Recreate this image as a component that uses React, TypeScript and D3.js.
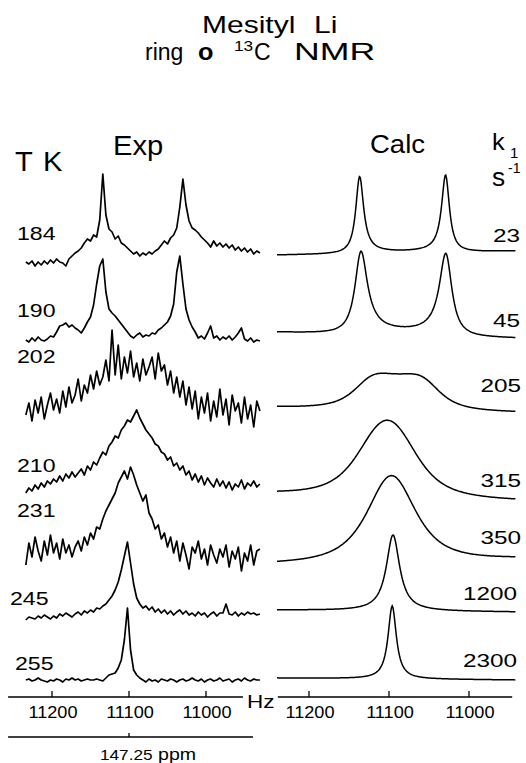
import React from "react";
import * as d3 from "d3";

const FONT = "'Liberation Sans', Arial, Helvetica, sans-serif";

// Temperatures (K) of the measured spectra, top to bottom
const temperatures = [184, 190, 202, 210, 231, 245, 255];
// Exchange rate constants k1 (s^-1) of the simulated spectra, top to bottom
const rateConstants = [23, 45, 205, 315, 350, 1200, 2300];

// Measured traces: intensity sampled every 4 Hz, from 11234 Hz down to 10930 Hz
const sampleStartHz = 11234;
const sampleStepHz = 4;

const exp184 = [3, 1, 4, -1, 3, 0, 4, 1, 5, 2, 6, 3, 2, -1, 6, 9, 12, 14, 17, 22, 26, 24, 30, 28, 45, 91, 50, 36, 33, 26, 29, 22, 20, 17, 14, 11, 13, 9, 12, 10, 13, 11, 14, 16, 20, 24, 21, 27, 30, 37, 58, 86, 60, 44, 37, 35, 32, 28, 25, 22, 18, 24, 19, 22, 18, 21, 17, 20, 15, 18, 14, 17, 13, 16, 11, 14, 12];
const exp190 = [2, 0, 4, 1, 5, 2, 1, 3, 6, 5, 10, 16, 17, 19, 15, 17, 14, 12, 9, 14, 20, 25, 37, 58, 76, 83, 50, 33, 29, 26, 22, 18, 14, 10, 6, 4, 7, 9, 5, 7, 6, 9, 8, 12, 14, 17, 20, 26, 38, 70, 86, 58, 33, 22, 15, 10, 4, 6, 3, 9, 16, 4, 6, 2, 5, 3, 6, 2, 5, 9, 14, 3, 1, 4, 0, 2, 1];
const exp202 = [0, 12, -6, 15, 2, 18, -4, 10, 22, 5, 16, 2, 24, 8, 28, 12, 20, 36, 14, 30, 22, 40, 26, 44, 30, 38, 55, 34, 85, 40, 70, 36, 58, 42, 64, 38, 52, 34, 56, 40, 48, 58, 36, 62, 44, 50, 30, 44, 22, 38, 18, 34, 10, 28, 6, 24, -4, 18, 2, 22, -6, 14, -2, 26, 0, 16, -10, 20, 4, 12, -8, 18, -4, 10, -12, 14, 4];
const exp210 = [-3, 2, -1, 5, 1, 7, 3, 9, 6, 11, 8, 14, 9, 16, 12, 18, 13, 17, 21, 15, 24, 20, 28, 25, 32, 38, 35, 44, 48, 54, 52, 60, 64, 70, 68, 74, 80, 72, 66, 60, 56, 52, 46, 44, 38, 36, 30, 33, 24, 27, 20, 24, 15, 19, 10, 16, 8, 14, 5, 12, 7, 3, 11, 4, 9, 2, 8, 0, 6, 3, 10, 1, 7, 4, 9, 3, 6];
const exp231 = [-10, 12, -2, 18, 4, -6, 14, 0, 20, 2, 12, -4, 16, 2, 10, -2, 8, 14, 4, 18, 10, 22, 16, 28, 26, 36, 44, 50, 56, 62, 72, 78, 84, 76, 88, 80, 70, 62, 54, 60, 42, 36, 26, 30, 16, 22, 8, 18, 2, 14, -6, 12, 0, -14, 8, 2, 14, -4, 6, -10, 10, 0, -8, 6, -2, 10, -12, 4, -4, 8, -16, 2, -6, 10, -10, 4, 6];
const exp245 = [-2, 1, 0, -1, 2, 0, 3, 1, -1, 2, 0, 4, 2, 5, 3, 1, 4, 6, 3, 7, 5, 8, 6, 10, 9, 12, 14, 18, 22, 28, 36, 48, 62, 76, 55, 34, 20, 14, 10, 12, 8, 11, 6, 9, 5, 8, 4, 7, 3, 6, 8, 4, 7, 3, 5, 2, 6, 3, 5, 1, 4, 6, 2, 5, 5, 14, 4, 3, 6, 2, 5, 3, 6, 4, 5, 3, 4];
const exp255 = [0, 1, -1, 0, 2, 0, -1, -2, 0, -1, 1, 0, -2, 1, 0, 2, 0, 1, -1, 0, 1, 0, 0, 1, 0, -1, 2, 5, 6, 7, 12, 20, 40, 72, 30, 10, 5, 2, 0, -2, 1, -1, 0, -2, 1, 0, -1, 1, 0, -2, 0, 1, -1, 0, 2, 0, -1, 1, -2, 0, 1, -1, 0, 2, -1, 0, 1, -2, 0, 1, -1, 2, 0, -1, 1, 0, 0];
const expTraces = [exp184, exp190, exp202, exp210, exp231, exp245, exp255];
// Stacking offset of each measured trace (intensity units)
const expOffsets = [415, 338, 265, 190, 125, 62, 0];

// Simulated spectra: equal-population two-site exchange
const calcCentersHz = [11083, 11082, 11090, 11102, 11097, 11095, 11096];
const calcSplittingHz = [108, 108, 100, 108, 108, 108, 108];
const naturalWidthHz = 4.5;
const calcHeights = [77, 83, 36, 76, 85, 76, 73];
const calcOffsetsLeft = [425, 348, 273, 187, 117, 70, 2];
const calcOffsetsRight = [429, 342, 268, 180, 122, 68, 0];

const axisTicksHz = [11200, 11100, 11000];

// Layout of the row labels (baseline positions)
const tempLabelX = [17, 17, 17, 17, 17, 10, 15];
const tempLabelY = [240, 317, 363, 472, 517, 605, 670];
const rateLabelX = [520, 520, 521, 521, 521, 517, 517];
const rateLabelY = [242, 327, 392, 487, 544, 600, 667];

// Absorption lineshape of two equally populated sites exchanging at rate k
function exchangeShape(nu: number, nuA: number, nuB: number, k: number, lam: number) {
  const ar = lam + k, ai = 2 * Math.PI * (nuA - nu);
  const br = lam + k, bi = 2 * Math.PI * (nuB - nu);
  const nr = 0.5 * (ar + br + 2 * k), ni = 0.5 * (ai + bi);
  const dr = ar * br - ai * bi - k * k, di = ar * bi + ai * br;
  return (nr * dr + ni * di) / (dr * dr + di * di);
}

type LabelProps = {
  x: number; y: number; size: number; sx?: number;
  anchor?: "start" | "middle" | "end"; weight?: string | number;
  children: React.ReactNode;
};

function Label({ x, y, size, sx = 1, anchor = "start", weight = "normal", children }: LabelProps) {
  return (
    <text
      transform={`translate(${x},${y}) scale(${sx},1)`}
      fontSize={size}
      textAnchor={anchor}
      fontWeight={weight}
      fontFamily={FONT}
      fill="#000"
    >
      {children}
    </text>
  );
}

export default function App() {
  const W = 526, H = 763;
  const xExp = d3.scaleLinear().domain([11200, 11000]).range([52, 206]);
  const xCalc = d3.scaleLinear().domain([11200, 11000]).range([309, 469]);
  const y = d3.scaleLinear().domain([0, 500]).range([680, 180]);

  const expPaths = expTraces.map((trace, r) =>
    d3.line<number>()
      .x((_, i) => xExp(sampleStartHz - i * sampleStepHz))
      .y((v) => y(expOffsets[r] + v))(trace) as string
  );

  const calcGrid = d3.range(11240, 10941, -1);
  const span = calcGrid[0] - calcGrid[calcGrid.length - 1];
  const calcPaths = rateConstants.map((k, r) => {
    const c = calcCentersHz[r];
    const half = calcSplittingHz[r] / 2;
    const vals = calcGrid.map((nu) =>
      exchangeShape(nu, c + half, c - half, k, Math.PI * naturalWidthHz)
    );
    const mx = d3.max(vals) as number;
    return d3.line<number>()
      .x((_, i) => xCalc(calcGrid[i]))
      .y((v, i) => {
        const t = (calcGrid[0] - calcGrid[i]) / span;
        const base = calcOffsetsLeft[r] + (calcOffsetsRight[r] - calcOffsetsLeft[r]) * t;
        return y(base + (calcHeights[r] * v) / mx);
      })(vals) as string;
  });

  const axisY = 697;
  const tickLen = 6;
  const ppmAxisY = 737;

  return (
    <svg
      width={W}
      height={H}
      viewBox={`0 0 ${W} ${H}`}
      style={{ position: "absolute", left: 0, top: 0, background: "#fff" }}
    >
      <rect x={0} y={0} width={W} height={H} fill="#fff" />

      {/* Title */}
      <Label x={202} y={33} size={24} sx={1.25}>Mesityl</Label>
      <Label x={314} y={33} size={24} sx={1.25}>Li</Label>
      <Label x={145} y={60} size={23} sx={1.0}>ring</Label>
      <Label x={198} y={60} size={23} sx={1.1} weight="bold">o</Label>
      <Label x={234} y={51} size={15} sx={1.15}>13</Label>
      <Label x={254} y={60} size={23} sx={1.0}>C</Label>
      <Label x={294} y={60} size={23} sx={1.55}>NMR</Label>

      {/* Column headings */}
      <Label x={15} y={171} size={27} sx={1.08}>T</Label>
      <Label x={43} y={171} size={27} sx={1.08}>K</Label>
      <Label x={113} y={155} size={27} sx={1.08}>Exp</Label>
      <Label x={370} y={153} size={25} sx={1.1}>Calc</Label>
      <Label x={492} y={150} size={23} sx={1.1}>k</Label>
      <Label x={510} y={158} size={15}>1</Label>
      <Label x={492} y={186} size={25} sx={1.05}>s</Label>
      <Label x={508} y={173} size={14}>-1</Label>

      {/* Measured spectra */}
      <g fill="none" stroke="#000" strokeWidth={1.7} strokeLinejoin="round">
        {expPaths.map((d, r) => (
          <path key={temperatures[r]} d={d} />
        ))}
      </g>
      {temperatures.map((t, r) => (
        <Label key={t} x={tempLabelX[r]} y={tempLabelY[r]} size={18.5} sx={1.25}>
          {t}
        </Label>
      ))}

      {/* Simulated spectra */}
      <g fill="none" stroke="#000" strokeWidth={1.5}>
        {calcPaths.map((d, r) => (
          <path key={rateConstants[r]} d={d} />
        ))}
      </g>
      {rateConstants.map((k, r) => (
        <Label key={k} x={rateLabelX[r]} y={rateLabelY[r]} size={19} sx={1.28} anchor="end">
          {k}
        </Label>
      ))}

      {/* Frequency axes */}
      <g stroke="#000" strokeWidth={1.3}>
        <line x1={xExp(11257)} x2={xExp(10952)} y1={axisY} y2={axisY} />
        {axisTicksHz.map((hz) => (
          <line key={hz} x1={xExp(hz)} x2={xExp(hz)} y1={axisY - tickLen} y2={axisY} />
        ))}
        <line x1={xCalc(11239)} x2={xCalc(10946)} y1={axisY} y2={axisY} />
        {axisTicksHz.map((hz) => (
          <line key={hz} x1={xCalc(hz)} x2={xCalc(hz)} y1={axisY - tickLen} y2={axisY} />
        ))}
        <line x1={xExp(11257)} x2={xExp(10939)} y1={ppmAxisY} y2={ppmAxisY} />
        <line x1={xExp(11100)} x2={xExp(11100)} y1={ppmAxisY - 4} y2={ppmAxisY} />
      </g>
      {axisTicksHz.map((hz) => (
        <Label key={"e" + hz} x={xExp(hz) + 1} y={718} size={16.5} sx={1.1} anchor="middle">
          {hz}
        </Label>
      ))}
      {axisTicksHz.map((hz) => (
        <Label key={"c" + hz} x={xCalc(hz) + 1} y={718} size={16.5} sx={1.1} anchor="middle">
          {hz}
        </Label>
      ))}
      <Label x={247} y={708} size={18} sx={1.25}>Hz</Label>
      <text
        transform={`translate(${xExp(11100) + 19},760) scale(1.15,1)`}
        textAnchor="middle"
        fontFamily={FONT}
        fill="#000"
      >
        <tspan fontSize={15}>147.25</tspan>
        <tspan fontSize={17}> ppm</tspan>
      </text>
    </svg>
  );
}
